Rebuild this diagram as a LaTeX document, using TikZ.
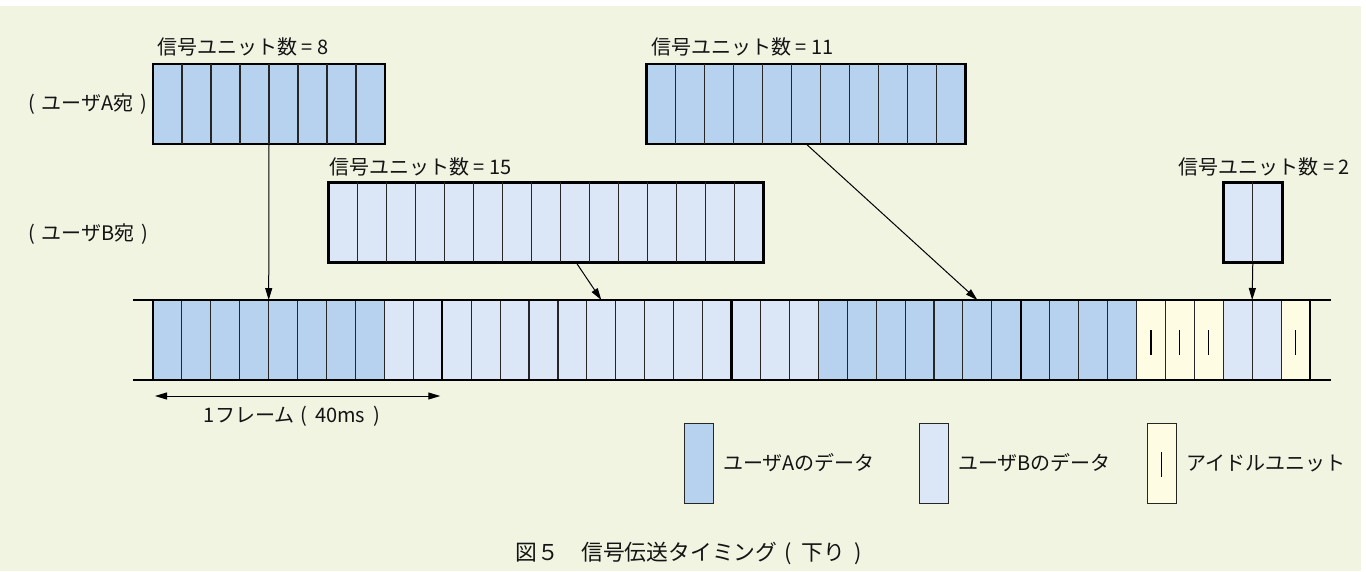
\documentclass[tikz,border=0pt]{standalone}
\usepackage{fontspec}
\newfontfamily\jpfont{Noto Sans CJK JP}
\usetikzlibrary{arrows.meta,calc}
\definecolor{bgc}{HTML}{F0F4E1}
\definecolor{ua}{HTML}{B7D2EE}
\definecolor{ub}{HTML}{DBE6F6}
\definecolor{idl}{HTML}{FEFDE4}
\begin{document}
\begin{tikzpicture}[x=1pt,y=-1pt,
  txt/.style={font=\jpfont\fontsize{20}{23}\selectfont, inner sep=0pt, text=black!92},
  captxt/.style={font=\jpfont\fontsize{21.8}{24}\selectfont, inner sep=0pt, text=black!92},
  cellbox/.style={draw=black!85, line width=1.1pt, minimum width=28.925pt, minimum height=80pt, inner sep=0pt, outer sep=0pt, anchor=north west},
  blkbox/.style={draw=black, line width=2.6pt, minimum height=80pt, inner sep=0pt, outer sep=0pt, anchor=north west},
  innerline/.style={draw=black!85, line width=1.1pt},
  frameline/.style={draw=black, line width=2.4pt},
  barline/.style={draw=black, line width=2.2pt},
  arrline/.style={draw=black, line width=1pt, -{Triangle[length=12pt,width=7pt]}},
  darrline/.style={draw=black, line width=1pt, {Triangle[length=12pt,width=7pt]}-{Triangle[length=12pt,width=7pt]}},
  legbox/.style={draw=black!85, line width=1.1pt, minimum width=29pt, minimum height=80pt, inner sep=0pt, anchor=north west},
]
\useasboundingbox (0,0) rectangle (1366,571);
\fill[white] (0,0) rectangle (1366,571);
\fill[bgc] (0,6) rectangle (1361,571);

% ---------- blocks ----------
\node[blkbox, fill=ua, minimum width=232pt] (blkA8) at (153,64) {};
\foreach \i in {1,...,7} \draw[innerline] ($(blkA8.north west)+(\i*29,0)$) -- ++(0,80);
\node[blkbox, fill=ub, minimum width=435pt] (blkB15) at (328.3,182.3) {};
\foreach \i in {1,...,14} \draw[innerline] ($(blkB15.north west)+(\i*29,0)$) -- ++(0,80);
\node[blkbox, fill=ua, minimum width=319pt] (blkA11) at (646.7,64) {};
\foreach \i in {1,...,10} \draw[innerline] ($(blkA11.north west)+(\i*29,0)$) -- ++(0,80);
\node[blkbox, fill=ub, minimum width=59pt] (blkB2) at (1223.3,182.3) {};
\draw[innerline] ($(blkB2.north west)+(29.5,0)$) -- ++(0,80);

% ---------- labels ----------
\node[txt, anchor=west] (lA8) at (157,47) {信号ユニット数 = 8};
\node[txt, anchor=west] (lB15) at (329,167) {信号ユニット数 = 15};
\node[txt, anchor=west] (lA11) at (651,47) {信号ユニット数 = 11};
\node[txt, anchor=east] (lB2) at (1350,167) {信号ユニット数 = 2};
\node[txt, anchor=west] (uA) at (28,104) {(\hspace{0.35em}ユーザA宛\hspace{0.35em})};
\node[txt, anchor=west] (uB) at (28,234) {(\hspace{0.35em}ユーザB宛\hspace{0.35em})};

% ---------- frame bar ----------
\foreach \i in {0,1,2,3,4,5,6,7,23,24,25,26,27,28,29,30,31,32,33}
  \node[cellbox, fill=ua] (c\i) at ({153+\i*28.925},300) {};
\foreach \i in {8,9,10,11,12,13,14,15,16,17,18,19,20,21,22,37,38}
  \node[cellbox, fill=ub] (c\i) at ({153+\i*28.925},300) {};
\foreach \i in {34,35,36,39}{
  \node[cellbox, fill=idl] (c\i) at ({153+\i*28.925},300) {};
  \draw[line width=1.3pt] ($(c\i.center)+(0,-10)$) -- ($(c\i.center)+(0,15)$);
}
\foreach \k in {0,10,20,30} \draw[frameline] (c\k.north west) -- (c\k.south west);
\draw[frameline] (c39.north east) -- (c39.south east);
\coordinate (tl) at ($(c0.north west)+(-20,0)$);
\coordinate (tr) at ($(c39.north east)+(21,0)$);
\coordinate (bl) at ($(c0.south west)+(-20,0)$);
\coordinate (br) at ($(c39.south east)+(21,0)$);
\draw[barline] (tl) -- (tr);
\draw[barline] (bl) -- (br);

% ---------- arrows ----------
\coordinate (b15out) at ($(blkB15.south west)+(247.7,0)$);
\draw[arrline] (blkA8.south) -- (c4.north west);
\draw[arrline] (b15out) -- (c15.north);
\draw[arrline] (blkA11.south) -- (c28.north);
\draw[arrline] (blkB2.south) -- (c38.north west);

% ---------- frame length ----------
\coordinate (fL) at ($(c0.south west)+(2,16)$);
\coordinate (fR) at ($(c9.south east)+(-2,16)$);
\draw[darrline] (fL) -- (fR);
\node[txt] (flbl) at (292,416) {1フレーム\hspace{0.3em}(\hspace{0.4em}40ms\hspace{0.4em})};

% ---------- legend ----------
\node[legbox, fill=ua] (legA) at (684.3,422.7) {};
\node[txt, anchor=west] (legAt) at (723,463) {ユーザAのデータ};
\node[legbox, fill=ub] (legB) at (919,422.7) {};
\node[txt, anchor=west] (legBt) at (958,463) {ユーザBのデータ};
\node[legbox, fill=idl] (legI) at (1146.7,422.7) {};
\draw[line width=1.3pt] ($(legI.center)+(0,-11)$) -- ($(legI.center)+(0,14)$);
\node[txt, anchor=west] (legIt) at (1186.5,463) {アイドルユニット};

% ---------- caption ----------
\node[captxt] (caption) at (689,553) {図５　信号伝送タイミング\hspace{0.3em}(\hspace{0.45em}下り\hspace{0.45em})};
\end{tikzpicture}
\end{document}
